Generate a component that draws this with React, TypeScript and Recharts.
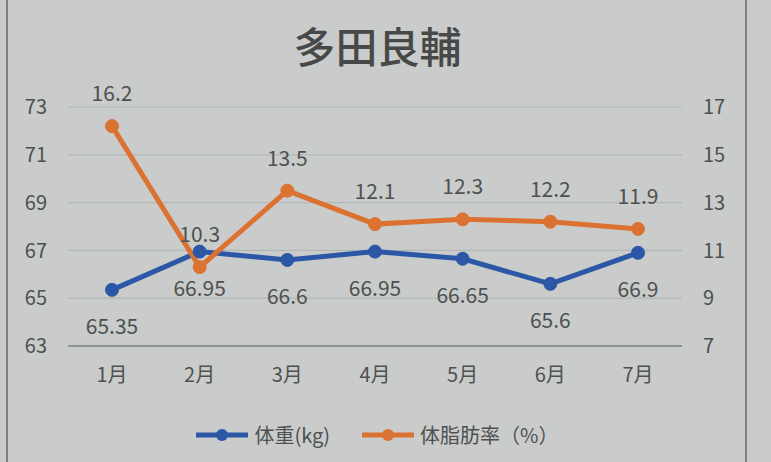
import React from "react"
import {
  LineChart,
  Line,
  XAxis,
  YAxis,
  CartesianGrid,
  Legend,
  LabelList,
} from "recharts"

const months = ["1月", "2月", "3月", "4月", "5月", "6月", "7月"]
const weight = [65.35, 66.95, 66.6, 66.95, 66.65, 65.6, 66.9]
const bodyFat = [16.2, 10.3, 13.5, 12.1, 12.3, 12.2, 11.9]
const weightTicks = [63, 65, 67, 69, 71, 73]
const fatTicks = [7, 9, 11, 13, 15, 17]

const data = months.map((m, i) => ({
  month: m,
  weight: weight[i],
  bodyFat: bodyFat[i],
}))

const BLUE = "#2b57a6"
const ORANGE = "#dc7232"
const TEXT = "#4e5150"
const FONT = "'Noto Sans CJK JP', 'Noto Sans', sans-serif"

const makeLabel = (dy: number) => (props: any) => {
  const { x, y, value } = props
  return (
    <text
      x={x}
      y={y + dy}
      textAnchor="middle"
      dominantBaseline="central"
      fill={TEXT}
      fontSize={21}
      fontFamily={FONT}
    >
      {value}
    </text>
  )
}

const legendItems = [
  { name: "体重(kg)", color: BLUE },
  { name: "体脂肪率（%）", color: ORANGE },
]

const LegendContent = () => (
  <div
    style={{
      display: "flex",
      justifyContent: "center",
      alignItems: "center",
      gap: 32,
      fontFamily: FONT,
      fontSize: 20,
      color: TEXT,
    }}
  >
    {legendItems.map((item) => (
      <div key={item.name} style={{ display: "flex", alignItems: "center" }}>
        <svg width={52} height={16} style={{ marginRight: 6 }}>
          <line x1={0} y1={8} x2={52} y2={8} stroke={item.color} strokeWidth={5} />
          <circle cx={26} cy={8} r={6} fill={item.color} />
        </svg>
        <span>{item.name}</span>
      </div>
    ))}
  </div>
)

export default function App() {
  return (
    <div
      style={{
        position: "fixed",
        left: 0,
        top: 0,
        width: 771,
        height: 462,
        background: "#c9cccb",
        overflow: "hidden",
      }}
    >
      {/* page border lines */}
      <div style={{ position: "absolute", left: 6, top: 0, width: 2, height: 462, background: "#7d807f" }} />
      <div style={{ position: "absolute", left: 745, top: 0, width: 2, height: 462, background: "#7d807f" }} />
      <div
        style={{
          position: "absolute",
          left: 0,
          top: 22,
          width: 755,
          textAlign: "center",
          fontFamily: FONT,
          fontSize: 42,
          fontWeight: 500,
          color: "#464948",
          lineHeight: "46px",
        }}
      >
        多田良輔
      </div>
      <LineChart
        width={771}
        height={462}
        data={data}
        margin={{ top: 107, right: 39, left: 18, bottom: 37 }}
        style={{ position: "absolute", left: 0, top: 0 }}
      >
        <CartesianGrid vertical={false} stroke="#b3b7b6" strokeWidth={1.2} yAxisId="left" />
        <XAxis
          dataKey="month"
          padding={{ left: 44, right: 44 }}
          height={50}
          tickLine={false}
          axisLine={{ stroke: "#8e9291", strokeWidth: 2 }}
          tickSize={0}
          tickMargin={22}
          tick={{ fill: TEXT, fontSize: 20, fontFamily: FONT }}
        />
        <YAxis
          yAxisId="left"
          domain={[63, 73]}
          ticks={weightTicks}
          width={50}
          axisLine={false}
          tickLine={false}
          tickSize={0}
          tickMargin={21}
          tick={{ fill: TEXT, fontSize: 20, fontFamily: FONT }}
        />
        <YAxis
          yAxisId="right"
          orientation="right"
          domain={[7, 17]}
          ticks={fatTicks}
          width={50}
          axisLine={false}
          tickLine={false}
          tickSize={0}
          tickMargin={21}
          tick={{ fill: TEXT, fontSize: 20, fontFamily: FONT, textAnchor: "start" }}
        />
        <Legend
          content={<LegendContent />}
          wrapperStyle={{ position: "absolute", top: 420, left: 0, width: 755 }}
        />
        <Line
          yAxisId="left"
          dataKey="weight"
          name="体重(kg)"
          stroke={BLUE}
          strokeWidth={5}
          dot={{ r: 6.5, fill: BLUE, stroke: BLUE, strokeWidth: 1 }}
          isAnimationActive={false}
        >
          <LabelList dataKey="weight" content={makeLabel(35)} />
        </Line>
        <Line
          yAxisId="right"
          dataKey="bodyFat"
          name="体脂肪率（%）"
          stroke={ORANGE}
          strokeWidth={5}
          dot={{ r: 6.5, fill: ORANGE, stroke: ORANGE, strokeWidth: 1 }}
          isAnimationActive={false}
        >
          <LabelList dataKey="bodyFat" content={makeLabel(-34)} />
        </Line>
      </LineChart>
    </div>
  )
}
